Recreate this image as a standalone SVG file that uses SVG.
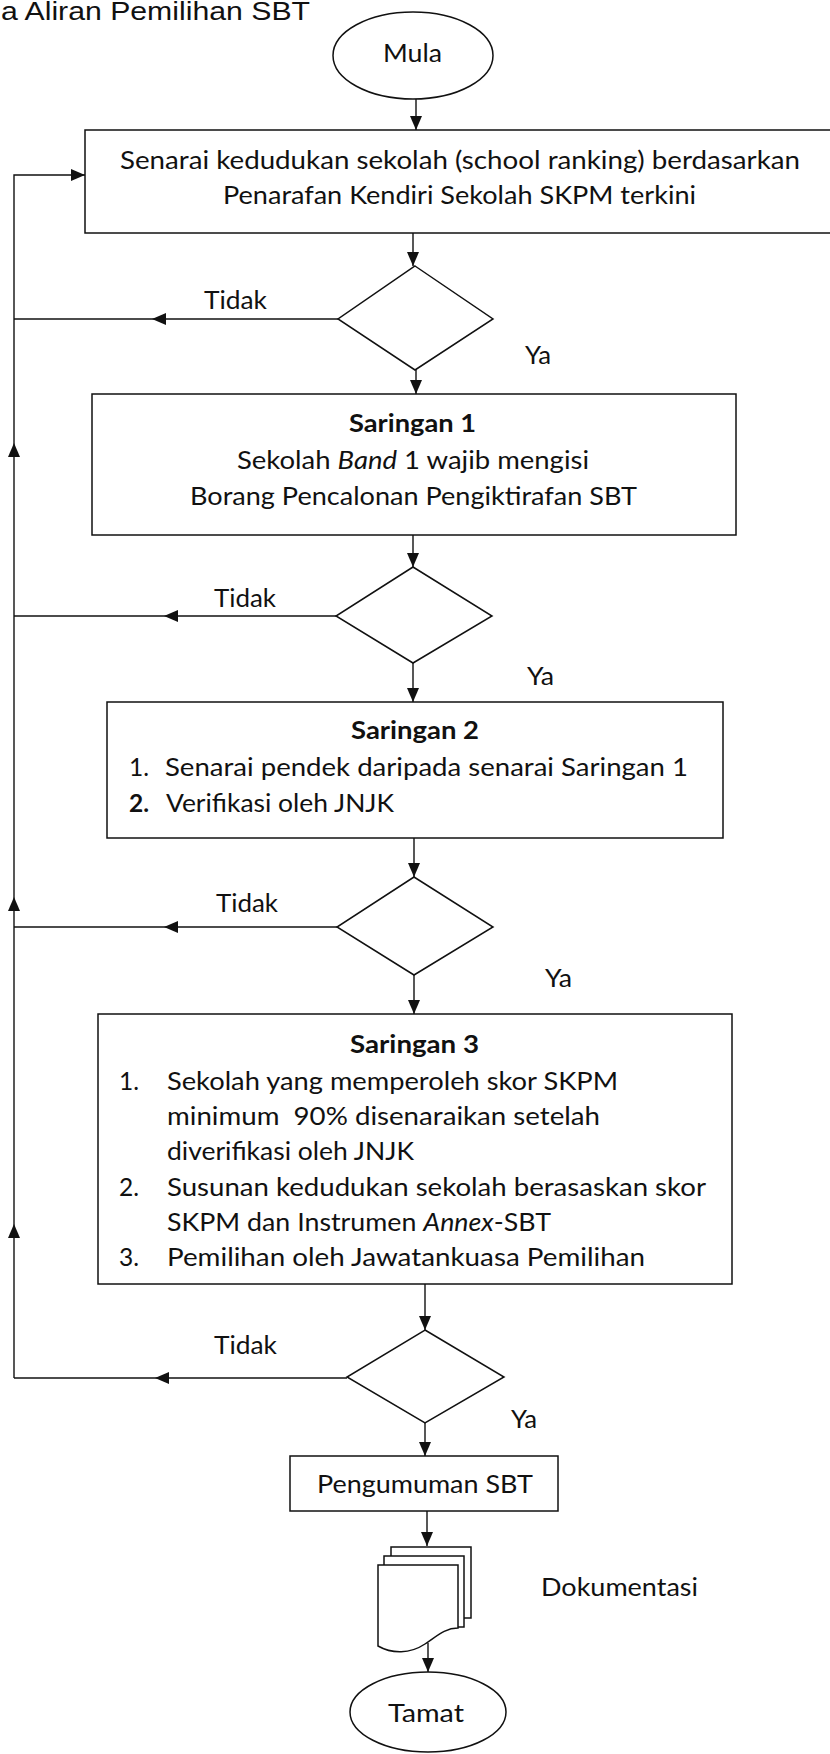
<svg xmlns="http://www.w3.org/2000/svg" width="830" height="1754" viewBox="0 0 830 1754">
<style>
  .bg { fill: #ffffff; }
  .shape { fill: #ffffff; stroke: #111111; stroke-width: 1.5; }
  .conn { fill: none; stroke: #111111; stroke-width: 1.4; }
  .t { font-family: Lato, "Open Sans", "Liberation Sans", sans-serif; font-size: 24.5px; fill: #111111; }
  .b { font-weight: bold; }
  .i { font-style: italic; }
  .title { font-family: "Liberation Sans", Arial, sans-serif; font-size: 25px; fill: #111111; }
</style>
<defs>
  <marker id="ah" markerUnits="userSpaceOnUse" markerWidth="14" markerHeight="12" refX="14" refY="6" orient="auto">
    <path d="M0,0 L14,6 L0,12 Z" fill="#111111"/>
  </marker>
</defs>
<rect class="bg" x="0" y="0" width="830" height="1754"/>

<text class="title" x="1" y="20" textLength="309" lengthAdjust="spacingAndGlyphs">a Aliran Pemilihan SBT</text>

<g id="connectors">
  <path class="conn" d="M416,99 V130" marker-end="url(#ah)"/>
  <path class="conn" d="M413,233 V266" marker-end="url(#ah)"/>
  <path class="conn" d="M416,369 V394" marker-end="url(#ah)"/>
  <path class="conn" d="M413,535 V567" marker-end="url(#ah)"/>
  <path class="conn" d="M413,663 V702" marker-end="url(#ah)"/>
  <path class="conn" d="M414,838 V877" marker-end="url(#ah)"/>
  <path class="conn" d="M414,975 V1014" marker-end="url(#ah)"/>
  <path class="conn" d="M425,1284 V1330" marker-end="url(#ah)"/>
  <path class="conn" d="M425,1423 V1456" marker-end="url(#ah)"/>
  <path class="conn" d="M427,1511 V1546" marker-end="url(#ah)"/>
  <path class="conn" d="M428,1643 V1672" marker-end="url(#ah)"/>
  <!-- Tidak branches -->
  <path class="conn" d="M338,319 H152" marker-end="url(#ah)"/>
  <path class="conn" d="M152,319 H14"/>
  <path class="conn" d="M336,616 H164" marker-end="url(#ah)"/>
  <path class="conn" d="M164,616 H14"/>
  <path class="conn" d="M337,927 H164" marker-end="url(#ah)"/>
  <path class="conn" d="M164,927 H14"/>
  <path class="conn" d="M347,1378 H155" marker-end="url(#ah)"/>
  <path class="conn" d="M155,1378 H14"/>
  <!-- return loop -->
  <path class="conn" d="M14,1378 V1224" marker-end="url(#ah)"/>
  <path class="conn" d="M14,1224 V897" marker-end="url(#ah)"/>
  <path class="conn" d="M14,897 V443" marker-end="url(#ah)"/>
  <path class="conn" d="M14,443 V175 H85" marker-end="url(#ah)"/>
  <!-- labels -->
  <text class="t" x="204" y="309" textLength="63" lengthAdjust="spacingAndGlyphs">Tidak</text>
  <text class="t" x="214" y="607" textLength="62" lengthAdjust="spacingAndGlyphs">Tidak</text>
  <text class="t" x="216" y="912" textLength="62" lengthAdjust="spacingAndGlyphs">Tidak</text>
  <text class="t" x="214" y="1354" textLength="63" lengthAdjust="spacingAndGlyphs">Tidak</text>
  <text class="t" x="525" y="364" textLength="26" lengthAdjust="spacingAndGlyphs">Ya</text>
  <text class="t" x="527" y="685" textLength="27" lengthAdjust="spacingAndGlyphs">Ya</text>
  <text class="t" x="545" y="987" textLength="27" lengthAdjust="spacingAndGlyphs">Ya</text>
  <text class="t" x="511" y="1428" textLength="26" lengthAdjust="spacingAndGlyphs">Ya</text>
</g>

<g id="mula">
  <ellipse class="shape" cx="413" cy="55.5" rx="80" ry="43.5"/>
  <text class="t" x="383" y="62" textLength="59" lengthAdjust="spacingAndGlyphs">Mula</text>
</g>

<g id="senarai">
  <rect class="shape" x="85" y="130" width="770" height="103"/>
  <text class="t" x="120" y="169" textLength="680" lengthAdjust="spacingAndGlyphs">Senarai kedudukan sekolah (school ranking) berdasarkan</text>
  <text class="t" x="223" y="204" textLength="473" lengthAdjust="spacingAndGlyphs">Penarafan Kendiri Sekolah SKPM terkini</text>
</g>

<g id="dec1"><polygon class="shape" points="415,266 493,319 415,370 338,319"/></g>

<g id="saringan1">
  <rect class="shape" x="92" y="394" width="644" height="141"/>
  <text class="t b" x="349" y="432" textLength="127" lengthAdjust="spacingAndGlyphs">Saringan 1</text>
  <text class="t" x="237" y="469" textLength="352" lengthAdjust="spacingAndGlyphs">Sekolah <tspan class="i">Band</tspan> 1 wajib mengisi</text>
  <text class="t" x="190" y="505" textLength="447" lengthAdjust="spacingAndGlyphs">Borang Pencalonan Pengiktirafan SBT</text>
</g>

<g id="dec2"><polygon class="shape" points="413,567 492,616 413,663 336,616"/></g>

<g id="saringan2">
  <rect class="shape" x="107" y="702" width="616" height="136"/>
  <text class="t b" x="351" y="739" textLength="128" lengthAdjust="spacingAndGlyphs">Saringan 2</text>
  <text class="t" x="129" y="776">1.</text>
  <text class="t" x="165" y="776" textLength="523" lengthAdjust="spacingAndGlyphs">Senarai pendek daripada senarai Saringan 1</text>
  <text class="t b" x="129" y="812">2.</text>
  <text class="t" x="166" y="812" textLength="228" lengthAdjust="spacingAndGlyphs">Verifikasi oleh JNJK</text>
</g>

<g id="dec3"><polygon class="shape" points="414,877 493,927 414,975 337,927"/></g>

<g id="saringan3">
  <rect class="shape" x="98" y="1014" width="634" height="270"/>
  <text class="t b" x="350" y="1053" textLength="129" lengthAdjust="spacingAndGlyphs">Saringan 3</text>
  <text class="t" x="119" y="1090">1.</text>
  <text class="t" x="167" y="1090" textLength="451" lengthAdjust="spacingAndGlyphs">Sekolah yang memperoleh skor SKPM</text>
  <text class="t" x="167" y="1125" textLength="433" lengthAdjust="spacingAndGlyphs" xml:space="preserve">minimum  90% disenaraikan setelah</text>
  <text class="t" x="167" y="1160" textLength="247" lengthAdjust="spacingAndGlyphs">diverifikasi oleh JNJK</text>
  <text class="t" x="119" y="1196">2.</text>
  <text class="t" x="167" y="1196" textLength="539" lengthAdjust="spacingAndGlyphs">Susunan kedudukan sekolah berasaskan skor</text>
  <text class="t" x="167" y="1231" textLength="384" lengthAdjust="spacingAndGlyphs">SKPM dan Instrumen <tspan class="i">Annex</tspan>-SBT</text>
  <text class="t" x="119" y="1266">3.</text>
  <text class="t" x="167" y="1266" textLength="478" lengthAdjust="spacingAndGlyphs">Pemilihan oleh Jawatankuasa Pemilihan</text>
</g>

<g id="dec4"><polygon class="shape" points="425,1330 504,1377 425,1423 347,1377"/></g>

<g id="pengumuman">
  <rect class="shape" x="290" y="1456" width="268" height="55"/>
  <text class="t" x="317" y="1493" textLength="216" lengthAdjust="spacingAndGlyphs">Pengumuman SBT</text>
</g>

<g id="dokumentasi">
  <rect class="shape" x="391" y="1547" width="80" height="71"/>
  <rect class="shape" x="384" y="1556" width="80" height="71"/>
  <path class="shape" d="M378,1565 H458 V1628 C445,1628 437,1636 425,1644 C410,1654 392,1654 378,1646 Z"/>
  <text class="t" x="541" y="1596" textLength="157" lengthAdjust="spacingAndGlyphs">Dokumentasi</text>
</g>

<g id="tamat">
  <ellipse class="shape" cx="428" cy="1712" rx="78" ry="40"/>
  <text class="t" x="388" y="1722" textLength="76" lengthAdjust="spacingAndGlyphs">Tamat</text>
</g>
</svg>
